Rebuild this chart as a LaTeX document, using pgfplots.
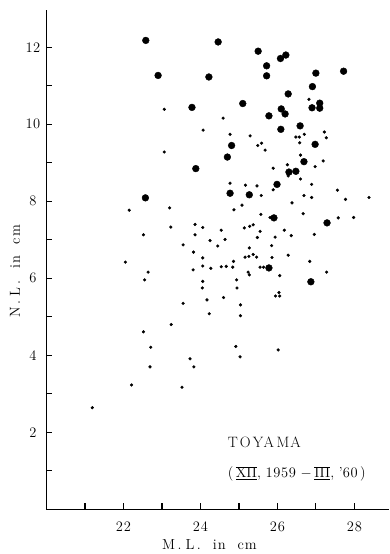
\documentclass[border=0pt]{standalone}
\usepackage{pgfplots}
\pgfplotsset{compat=1.18}
\newcommand\rn[1]{\ensuremath{\overline{\underline{\mathrm{#1}}}}}
\begin{document}
\begin{tikzpicture}
\begin{axis}[
  at={(0,0)}, anchor=south west,
  scale only axis, width=342.5pt, height=499.3pt,
  xmin=20, xmax=28.9, ymin=0, ymax=12.97,
  axis lines*=left,
  axis line style={line width=1.5pt},
  xtick={21,...,28}, xticklabels={,2\kern1pt2,,2\kern1pt4,,2\kern1pt6,,2\kern1pt8},
  ytick={1,...,12}, yticklabels={,2,,4,,6,,8,,1\kern0.5pt0,,1\kern0.5pt2},
  tick align=inside, major tick length=6pt,
  tick style={line width=1.2pt, black},
  xticklabel style={anchor=center, yshift=-17.4pt, font=\fontsize{14.5}{16}\selectfont},
  yticklabel style={anchor=center, xshift=-13.5pt, font=\fontsize{14.5}{16}\selectfont},
  clip=false,
]
\addplot[only marks, mark=*, mark size=1.4pt, black] coordinates {
(23.06,10.39) (24.07,9.85) (26.82,10.65) (24.59,10.16) (24.77,9.74) (25.29,9.70)
(26.48,9.67) (26.57,9.67) (26.70,9.74) (27.22,9.80) (27.27,9.65) (26.58,9.52)
(25.49,9.45) (25.59,9.51) (25.68,9.33) (26.60,9.20) (26.98,8.90) (27.19,9.05)
(25.89,8.86) (26.26,8.95) (26.28,8.66) (26.60,8.58) (24.77,8.47) (25.17,8.42)
(25.47,8.40) (26.89,8.44) (27.56,8.29) (27.77,8.05) (28.38,8.10) (25.58,8.15)
(25.89,8.30) (26.69,8.15) (26.89,8.10) (26.38,7.96) (25.08,7.90) (24.87,7.78)
(25.57,7.66) (26.67,7.68) (27.58,7.57) (27.98,7.58) (24.06,7.32) (24.54,7.25)
(25.14,7.31) (25.28,7.35) (25.37,7.39) (25.55,7.22) (26.18,7.25) (26.36,7.11)
(26.96,7.14) (24.25,6.98) (24.64,7.01) (25.48,7.06) (25.94,7.07) (24.45,6.84)
(25.27,6.79) (25.85,6.85) (24.06,6.53) (25.16,6.55) (25.26,6.57) (25.37,6.62)
(25.46,6.55) (25.86,6.54) (26.28,6.60) (24.86,6.44) (26.84,6.44) (24.06,6.32)
(24.27,6.26) (24.54,6.30) (24.67,6.31) (24.84,6.29) (25.55,6.29) (25.64,6.29)
(25.24,6.16) (25.27,6.09) (26.06,6.07) (27.28,6.16) (24.06,5.92) (24.94,5.96)
(24.05,5.75) (24.95,5.75) (25.81,7.58)
(23.06,9.28) (22.15,7.77) (23.20,7.83) (23.23,7.33) (23.86,7.40) (22.52,7.13)
(23.86,7.13) (23.55,6.87) (23.82,6.68) (22.05,6.42) (23.81,6.22) (22.64,6.16)
(22.55,5.96)
(24.17,5.44) (23.55,5.35) (24.23,5.08) (23.24,4.80) (22.52,4.61) (22.71,4.21)
(23.73,3.91) (22.69,3.70) (23.83,3.70) (22.21,3.23) (23.52,3.17) (21.19,2.64)
(24.60,5.50) (25.04,5.31) (25.04,5.03) (26.04,5.63) (25.95,5.54) (26.06,5.54)
(24.92,4.23) (25.03,3.96) (26.02,4.14)
};
\addplot[only marks, mark=*, mark size=3.4pt, black] coordinates {
(22.58,12.18) (24.46,12.14) (22.90,11.27) (24.22,11.23) (23.78,10.44) (25.50,11.90)
(25.72,11.52) (26.08,11.71) (26.22,11.80) (25.72,11.26) (27.00,11.33) (27.72,11.38)
(26.91,10.98) (26.28,10.79) (27.10,10.55) (26.90,10.43) (27.10,10.42) (25.10,10.54)
(26.10,10.40) (26.20,10.27) (25.78,10.22) (26.09,9.87) (26.59,9.96) (26.98,9.48)
(24.81,9.45) (24.70,9.15) (26.69,9.03) (26.30,8.76) (26.48,8.78) (25.99,8.44)
(24.77,8.21) (25.27,8.17) (25.91,7.57) (27.29,7.44) (25.78,6.27) (26.87,5.91)
(23.88,8.85) (22.57,8.09)
};
\node[anchor=west, inner sep=0pt, font=\fontsize{15}{16}\selectfont] at (axis cs:24.71,1.74)
  {T\kern2pt O\kern2pt Y\kern0.5pt A\kern2.5pt M\kern1pt A};
\node[anchor=west, inner sep=0pt, font=\fontsize{14.5}{16}\selectfont] at (axis cs:24.71,0.92)
  {(\,\rn{XII}, 1\kern0.6pt9\kern0.6pt5\kern0.6pt9 $-$\,\rn{III}, '6\kern0.6pt0\,)};
\end{axis}
\node[font=\fontsize{14.5}{16}\selectfont] at (163pt,-35.7pt) {M\,.\;L\,.\enspace\ i\kern1pt n\enspace\ c\kern1pt m};
\node[rotate=90, font=\fontsize{14.5}{16}\selectfont] at (-31.5pt,238.3pt) {N\,.\;L\,.\enspace\ i\kern1pt n\enspace\ c\kern1pt m};
\pgfresetboundingbox
\path (-46.5pt,-44.7pt) rectangle (342.5pt,509.3pt);
\end{tikzpicture}
\end{document}
